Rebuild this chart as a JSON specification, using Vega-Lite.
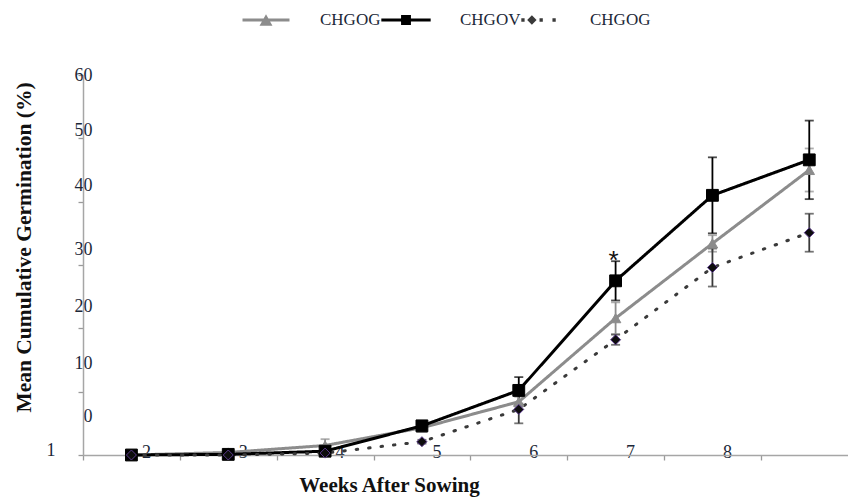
{
  "$schema": "https://vega.github.io/schema/vega-lite/v6.json",
  "width": 765,
  "height": 380,
  "autosize": {"type": "none"},
  "padding": {"left": 83, "top": 75, "right": 0, "bottom": 42},
  "background": "white",
  "config": {"view": {"stroke": null}},
  "data": {"values": [
    {"week": 2, "series": "CHGOG", "value": 0, "err": 0, "sig": ""},
    {"week": 3, "series": "CHGOG", "value": 0.4, "err": 0, "sig": ""},
    {"week": 4, "series": "CHGOG", "value": 1.5, "err": 1.0, "sig": ""},
    {"week": 5, "series": "CHGOG", "value": 4.3, "err": 0.4, "sig": ""},
    {"week": 6, "series": "CHGOG", "value": 8.4, "err": 0.8, "sig": ""},
    {"week": 7, "series": "CHGOG", "value": 21.6, "err": 2.5, "sig": ""},
    {"week": 8, "series": "CHGOG", "value": 33.4, "err": 1.3, "sig": ""},
    {"week": 9, "series": "CHGOG", "value": 45.0, "err": 3.4, "sig": ""},
    {"week": 2, "series": "CHGOV", "value": 0, "err": 0, "sig": ""},
    {"week": 3, "series": "CHGOV", "value": 0.1, "err": 0, "sig": ""},
    {"week": 4, "series": "CHGOV", "value": 0.6, "err": 0, "sig": ""},
    {"week": 5, "series": "CHGOV", "value": 4.6, "err": 0.3, "sig": ""},
    {"week": 6, "series": "CHGOV", "value": 10.2, "err": 2.1, "sig": ""},
    {"week": 7, "series": "CHGOV", "value": 27.5, "err": 3.1, "sig": "*"},
    {"week": 8, "series": "CHGOV", "value": 41.0, "err": 6.0, "sig": ""},
    {"week": 9, "series": "CHGOV", "value": 46.6, "err": 6.2, "sig": ""},
    {"week": 2, "series": "CHGOG 2", "value": 0, "err": 0, "sig": ""},
    {"week": 3, "series": "CHGOG 2", "value": 0, "err": 0, "sig": ""},
    {"week": 4, "series": "CHGOG 2", "value": 0.3, "err": 0, "sig": ""},
    {"week": 5, "series": "CHGOG 2", "value": 2.1, "err": 0.3, "sig": ""},
    {"week": 6, "series": "CHGOG 2", "value": 7.2, "err": 2.2, "sig": ""},
    {"week": 7, "series": "CHGOG 2", "value": 18.2, "err": 0.8, "sig": ""},
    {"week": 8, "series": "CHGOG 2", "value": 29.6, "err": 3.0, "sig": ""},
    {"week": 9, "series": "CHGOG 2", "value": 35.1, "err": 3.0, "sig": ""}
  ]},
  "encoding": {
    "x": {"field": "week", "type": "quantitative",
      "scale": {"domain": [1.5, 9.4], "nice": false, "zero": false},
      "axis": {"orient": "bottom",
        "values": [1.5, 2.5, 3.5, 4.5, 5.5, 6.5, 7.5, 8.5, 2.15, 3.15, 4.15, 5.15, 6.15, 7.15, 8.15],
        "labelExpr": "datum.value % 1 == 0.5 ? '' : '' + floor(datum.value)",
        "grid": false, "ticks": true, "tickSize": 5,
        "tickColor": {"condition": {"test": "datum.value % 1 == 0.5", "value": "#9a9a9a"}, "value": "transparent"},
        "tickWidth": 1.3, "domainColor": "#a6a6a6", "domainWidth": 1.5,
        "labelPadding": -3, "labelBaseline": "alphabetic",
        "labelFlush": false, "labelOverlap": false, "labelBound": false,
        "labelFont": "Liberation Serif", "labelFontSize": 18, "labelColor": "#1c2838",
        "title": "Weeks After Sowing", "titleFont": "Liberation Serif", "titleFontSize": 21, "titleFontWeight": "bold", "titleColor": "#111111",
        "titleX": 306, "titleY": 30, "titleBaseline": "middle", "titleAlign": "center", "titleAnchor": null}},
    "y": {"field": "value", "type": "quantitative",
      "scale": {"domain": [0, 60], "nice": false},
      "axis": {"orient": "left",
        "values": [0, 10, 20, 30, 40, 50, 60, 0.7, 6.05, 14.5, 23.4, 32.4, 42.5, 51.3],
        "labelExpr": "datum.value == 60 ? '60' : (datum.value % 10 == 0 ? '' : (datum.value < 1 ? '1' : '' + round((datum.value - 6) / 9) * 10))",
        "grid": false, "ticks": true, "tickSize": 5,
        "tickColor": {"condition": {"test": "datum.value % 10 == 0", "value": "#9a9a9a"}, "value": "transparent"},
        "tickWidth": 1.3, "domainColor": "#a6a6a6", "domainWidth": 1.5,
        "labelPadding": {"condition": {"test": "datum.value < 1", "value": 23}, "value": -14},
        "labelAlign": "right", "labelBaseline": "middle",
        "labelFlush": false, "labelOverlap": false, "labelBound": false,
        "labelFont": "Liberation Serif", "labelFontSize": 18, "labelColor": "#1c2838",
        "title": "Mean Cumulative Germination (%)", "titleFont": "Liberation Serif", "titleFontSize": 21.5, "titleFontWeight": "bold", "titleColor": "#111111",
        "titleX": -59, "titleY": 172, "titleAngle": -90, "titleBaseline": "middle", "titleAlign": "center", "titleAnchor": null}}
  },
  "layer": [
    {
      "mark": {"type": "errorbar", "ticks": {"size": 9}, "thickness": 1.8},
      "encoding": {
        "yError": {"field": "err"},
        "color": {"field": "series", "type": "nominal",
          "scale": {"domain": ["CHGOG", "CHGOV", "CHGOG 2"], "range": ["#8c8c8c", "#000000", "#3a3a3a"]}}
      }
    },
    {
      "mark": {"type": "line", "strokeWidth": 3, "strokeCap": "round"},
      "encoding": {
        "color": {"field": "series", "type": "nominal",
          "scale": {"domain": ["CHGOG", "CHGOV", "CHGOG 2"], "range": ["#8c8c8c", "#000000", "#3a3a3a"]},
          "legend": {"orient": "none", "legendX": 171, "legendY": -67, "direction": "horizontal", "title": null, "padding": 0,
            "labelExpr": "datum.label == 'CHGOG 2' ? 'CHGOG' : datum.label",
            "labelFont": "Liberation Serif", "labelFontSize": 17, "labelColor": "#1c2838", "labelOffset": 42, "columnPadding": 0,
            "symbolSize": 552, "symbolType": "M-2,-0.13H2V0.13H-2Z",
            "encode": {"symbols": {"update": {
              "shape": {"signal": "datum.value === 'CHGOG' ? 'M-2,-0.13H2V0.13H-2ZM-0.55,0.48L0,-0.5L0.55,0.48Z' : (datum.value === 'CHGOV' ? 'M-2.1,-0.13H2.1V0.13H-2.1ZM-0.42,-0.42H0.42V0.42H-0.42Z' : 'M-1.25,-0.14H-0.97V0.14H-1.25ZM0.3,-0.14H0.58V0.14H0.3ZM1.4,-0.14H1.68V0.14H1.4ZM-0.75,0L-0.35,-0.4L0.05,0L-0.35,0.4Z')"},
              "fill": {"signal": "datum.value === 'CHGOG' ? '#8c8c8c' : (datum.value === 'CHGOV' ? '#000000' : '#1a1a1a')"},
              "stroke": {"value": "transparent"},
              "strokeWidth": {"value": 0},
              "size": {"value": 552},
              "opacity": {"value": 1},
              "fillOpacity": {"value": 1}
            }}}}},
        "strokeDash": {"field": "series", "type": "nominal", "legend": null,
          "scale": {"domain": ["CHGOG", "CHGOV", "CHGOG 2"], "range": [[1, 0], [1, 0], [1.5, 11]]}}
      }
    },
    {
      "transform": [{"filter": "datum.series == 'CHGOG'"}],
      "mark": {"type": "point", "shape": "triangle-up", "size": 110, "filled": true, "opacity": 1, "fill": "#8c8c8c", "stroke": "#8c8c8c", "strokeWidth": 1}
    },
    {
      "transform": [{"filter": "datum.series == 'CHGOV'"}],
      "mark": {"type": "point", "shape": "square", "size": 140, "filled": true, "opacity": 1, "fill": "#000000", "stroke": "#000000", "strokeWidth": 1}
    },
    {
      "transform": [{"filter": "datum.series == 'CHGOG 2'"}],
      "mark": {"type": "point", "shape": "diamond", "size": 100, "filled": true, "opacity": 1, "fill": "#0d0d0d", "stroke": "#5b3b8c", "strokeWidth": 1}
    },
    {
      "transform": [{"filter": "datum.sig == '*'"}],
      "mark": {"type": "text", "font": "Liberation Sans", "fontSize": 26, "dy": -20, "dx": -2, "baseline": "middle", "color": "#111111"},
      "encoding": {
        "text": {"field": "sig"}
      }
    }
  ]
}
